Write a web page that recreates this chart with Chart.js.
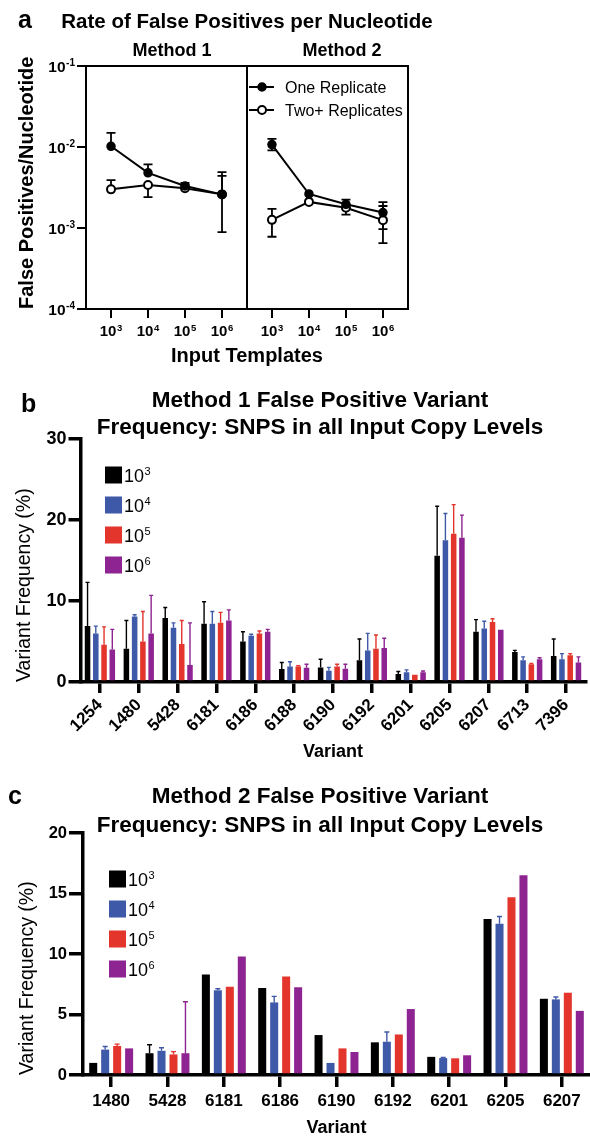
<!DOCTYPE html>
<html><head><meta charset="utf-8">
<script src="https://cdn.jsdelivr.net/npm/chart.js@4.4.1/dist/chart.umd.min.js"></script>
<style>
html,body{margin:0;padding:0;background:#fff;width:590px;height:1137px;overflow:hidden}
.w{position:absolute;left:0;width:590px}
#wa{top:0;height:370px}
#wb{top:380px;height:390px}
#wc{top:780px;height:357px}
canvas{display:block}
</style></head><body>
<div class="w" id="wa"><canvas id="ca"></canvas></div>
<div class="w" id="wb"><canvas id="cb"></canvas></div>
<div class="w" id="wc"><canvas id="cc"></canvas></div>
<script>
// ---------- DATA ----------
// Panel a: input templates 10^3..10^6 (exponents)
const templateExp = ['3','4','5','6'];
const yDecades = [1e-4, 1e-3, 1e-2, 1e-1];
const yDecadeExp = ['-4','-3','-2','-1'];
// Method 1
const m1One   = [0.0102, 0.0048, 0.0033, 0.0026];
const m1OneHi = [0.0149, 0.0061, 0.0036, 0.0049];
const m1OneLo = [null, null, null, null];
const m1Two   = [0.0030, 0.0034, 0.0031, 0.0026];
const m1TwoHi = [0.0039, null, 0.0034, 0.0044];
const m1TwoLo = [null, 0.0024, null, 0.00089];
// Method 2
const m2One   = [0.0107, 0.00263, 0.00196, 0.00155];
const m2OneHi = [0.0126, null, 0.00224, 0.00209];
const m2OneLo = [0.0091, null, null, 0.00097];
const m2Two   = [0.00126, 0.0021, 0.00178, 0.00125];
const m2TwoHi = [0.00172, null, null, 0.00187];
const m2TwoLo = [0.00078, null, 0.00146, 0.00065];

// Panels b & c: series = input copy levels 10^3..10^6
const seriesExp = ['3','4','5','6'];
const seriesColors = ['#000000', '#3F59A9', '#E3352B', '#8E2491'];

const variantsB = ['1254','1480','5428','6181','6186','6188','6190','6192','6201','6205','6207','6713','7396'];
const yTicksB = [0, 10, 20, 30];
const b3   = [6.9, 4.1, 7.9, 7.2, 5.0, 1.6, 1.8, 2.7, 1.0, 15.6, 6.2, 3.7, 3.2];
const b3Hi = [12.3, 7.6, 9.2, 9.9, 6.2, 2.4, 2.8, 5.3, 1.3, 21.7, 7.7, 3.9, 5.3];
const b4   = [6.0, 8.1, 6.7, 7.2, 5.7, 1.9, 1.4, 3.9, 1.2, 17.5, 6.6, 2.7, 2.8];
const b4Hi = [6.9, 8.3, 7.3, 8.7, 5.9, 2.5, 1.8, 6.0, 1.5, 20.8, 7.5, 3.1, 3.5];
const b5   = [4.6, 5.0, 4.7, 7.3, 6.0, 1.9, 1.9, 4.1, 0.9, 18.3, 7.4, 2.2, 3.3];
const b5Hi = [6.8, 8.7, 7.6, 8.6, 6.3, 2.0, 2.2, 5.8, null, 21.9, 7.8, 2.3, 3.5];
const b6   = [4.0, 6.0, 2.1, 7.6, 6.2, 1.75, 1.65, 4.2, 1.2, 17.8, 6.45, 2.8, 2.4];
const b6Hi = [6.5, 10.7, 7.3, 8.9, 6.5, 2.2, 2.2, 5.4, 1.35, 20.6, null, 3.0, 3.1];

const variantsC = ['1480','5428','6181','6186','6190','6192','6201','6205','6207'];
const yTicksC = [0, 5, 10, 15, 20];
const c3   = [1.0, 1.8, 8.3, 7.2, 3.3, 2.7, 1.5, 12.9, 6.3];
const c3Hi = [null, 2.5, null, null, null, null, null, null, null];
const c4   = [2.1, 2.0, 7.0, 6.0, 1.0, 2.75, 1.4, 12.5, 6.25];
const c4Hi = [2.35, 2.25, 7.13, 6.5, null, 3.55, 1.46, 13.1, 6.45];
const c5   = [2.4, 1.7, 7.3, 8.15, 2.2, 3.35, 1.38, 14.7, 6.8];
const c5Hi = [2.55, 1.93, null, null, null, null, null, null, null];
const c6   = [2.2, 1.8, 9.8, 7.25, 1.9, 5.45, 1.63, 16.5, 5.3];
const c6Hi = [null, 6.05, null, null, null, null, null, null, null];

// ---------- HELPERS ----------
const FONT = "'Liberation Sans', Arial, Helvetica, sans-serif";
Chart.defaults.font.family = FONT;
Chart.defaults.color = '#000';

function txt(ctx, s, x, y, size, weight, align) {
  ctx.save();
  ctx.font = weight + ' ' + size + 'px ' + FONT;
  ctx.fillStyle = '#000';
  ctx.textAlign = align || 'left';
  ctx.textBaseline = 'alphabetic';
  ctx.fillText(s, x, y);
  ctx.restore();
}
function pow(ctx, base, exp, x, y, size, expSize, rise, weight, align) {
  ctx.save();
  ctx.fillStyle = '#000';
  ctx.textBaseline = 'alphabetic';
  ctx.textAlign = 'left';
  ctx.font = weight + ' ' + size + 'px ' + FONT;
  const wb = ctx.measureText(base).width;
  ctx.font = weight + ' ' + expSize + 'px ' + FONT;
  const we = ctx.measureText(exp).width;
  const tw = wb + we + 0.5;
  const x0 = align === 'center' ? x - tw / 2 : align === 'right' ? x - tw : x;
  ctx.font = weight + ' ' + size + 'px ' + FONT;
  ctx.fillText(base, x0, y);
  ctx.font = weight + ' ' + expSize + 'px ' + FONT;
  ctx.fillText(exp, x0 + wb + 0.5, y - rise);
  ctx.restore();
}
function drawErrors(chart, opts) {
  const ctx = chart.ctx;
  chart.data.datasets.forEach((ds, di) => {
    const meta = chart.getDatasetMeta(di);
    const ys = chart.scales[meta.yAxisID];
    ctx.save();
    ctx.strokeStyle = ds.errColor || ds.backgroundColor;
    ctx.lineWidth = opts.width;
    meta.data.forEach((el, i) => {
      const x = el.x, y = el.y;
      [ds.errHi, ds.errLo].forEach(arr => {
        if (!arr || arr[i] == null) return;
        const ye = ys.getPixelForValue(arr[i]);
        ctx.beginPath();
        ctx.moveTo(x, y); ctx.lineTo(x, ye);
        ctx.moveTo(x - opts.cap, ye); ctx.lineTo(x + opts.cap, ye);
        ctx.stroke();
      });
    });
    ctx.restore();
  });
}
const errorBars = {
  id: 'errorBars',
  beforeDatasetsDraw(chart, args, opts) { if (opts.before) drawErrors(chart, opts); },
  afterDatasetsDraw(chart, args, opts) { if (!opts.before) drawErrors(chart, opts); }
};
function textsPlugin(id, list) {
  return { id: id, afterDraw(chart) {
    list.forEach(t => txt(chart.ctx, t[0], t[1], t[2], t[3], t[4], t[5]));
  }};
}
const barLegend = {
  id: 'barLegend',
  afterDraw(chart, args, o) {
    const ctx = chart.ctx;
    chart.data.datasets.forEach((ds, k) => {
      const cy = o.y0 + k * o.dy;
      ctx.save();
      ctx.fillStyle = ds.backgroundColor;
      ctx.fillRect(o.x, cy - o.size / 2, o.size, o.size);
      ctx.restore();
      pow(ctx, '10', seriesExp[k], o.textX, cy + 6.5, 18, 11, 7, 'normal', 'left');
    });
  }
};

// ---------- PANEL A ----------
const M2_SHIFT = 4.35;
const tickPosA = templateExp.map((e, i) => i).concat(templateExp.map((e, i) => i + M2_SHIFT));
const toPts = (arr, shift) => arr.map((v, i) => ({ x: i + shift, y: v }));
function lineDs(label, arr, hi, lo, shift, filled) {
  return {
    label: label, data: toPts(arr, shift), errHi: hi, errLo: lo, errColor: '#000',
    borderColor: '#000', backgroundColor: '#000', borderWidth: 2,
    pointBackgroundColor: filled ? '#000' : '#fff', pointBorderColor: '#000',
    pointRadius: 4, pointBorderWidth: filled ? 1.5 : 2, pointHoverRadius: 4, tension: 0
  };
}
const frameA = {
  id: 'frameA',
  afterDraw(chart) {
    const { ctx, chartArea: a, scales } = chart;
    ctx.save();
    ctx.strokeStyle = '#000'; ctx.lineWidth = 2;
    ctx.strokeRect(a.left, a.top, a.right - a.left, a.bottom - a.top);
    const xd = scales.x.getPixelForValue(3 + (M2_SHIFT - 3) / 2);
    ctx.beginPath(); ctx.moveTo(xd, a.top); ctx.lineTo(xd, a.bottom); ctx.stroke();
    ctx.restore();
  }
};
const labelsA = {
  id: 'labelsA',
  afterDraw(chart) {
    const { ctx, chartArea: a, scales } = chart;
    templateExp.forEach((e, i) => {
      pow(ctx, '10', e, scales.x.getPixelForValue(i), a.bottom + 27, 15, 9.5, 5.5, 'bold', 'center');
      pow(ctx, '10', e, scales.x.getPixelForValue(i + M2_SHIFT), a.bottom + 27, 15, 9.5, 5.5, 'bold', 'center');
    });
    yDecades.forEach((v, i) => {
      pow(ctx, '10', yDecadeExp[i], a.left - 11, scales.y.getPixelForValue(v) + 5.5, 15.5, 10, 5.5, 'bold', 'right');
    });
    txt(ctx, 'a', 18, 28, 25, 'bold');
    txt(ctx, 'Rate of False Positives per Nucleotide', 247, 28, 20.5, 'bold', 'center');
    txt(ctx, 'Method 1', 172, 56, 18, 'bold', 'center');
    txt(ctx, 'Method 2', 342, 56, 18, 'bold', 'center');
    // legend
    const rows = [[87, true, 'One Replicate'], [110, false, 'Two+ Replicates']];
    rows.forEach(r => {
      ctx.save();
      ctx.strokeStyle = '#000'; ctx.lineWidth = 2;
      ctx.beginPath(); ctx.moveTo(249, r[0]); ctx.lineTo(274, r[0]); ctx.stroke();
      ctx.beginPath(); ctx.arc(262, r[0], 4, 0, Math.PI * 2);
      ctx.fillStyle = r[1] ? '#000' : '#fff'; ctx.fill();
      ctx.lineWidth = r[1] ? 1.5 : 2; ctx.stroke();
      ctx.restore();
      txt(ctx, r[2], 285, r[0] + 6, 16, 'normal', 'left');
    });
  }
};
new Chart(document.getElementById('ca'), {
  type: 'line',
  data: { datasets: [
    lineDs('One Replicate', m1One, m1OneHi, m1OneLo, 0, true),
    lineDs('Two+ Replicates', m1Two, m1TwoHi, m1TwoLo, 0, false),
    lineDs('One Replicate', m2One, m2OneHi, m2OneLo, M2_SHIFT, true),
    lineDs('Two+ Replicates', m2Two, m2TwoHi, m2TwoLo, M2_SHIFT, false)
  ]},
  options: {
    responsive: true, maintainAspectRatio: false, animation: false,
    layout: { padding: { left: 0, top: 66, right: 182, bottom: 0 } },
    plugins: { legend: { display: false }, tooltip: { enabled: false },
      errorBars: { before: true, cap: 4.5, width: 1.8 } },
    scales: {
      x: { type: 'linear', min: -0.676, max: 8.027,
        afterBuildTicks: s => { s.ticks = tickPosA.map(v => ({ value: v })); },
        afterFit: s => { s.height = 61; },
        ticks: { display: false },
        grid: { drawOnChartArea: false, tickLength: 9, lineWidth: 2, color: '#000' },
        border: { display: false },
        title: { display: true, text: 'Input Templates', color: '#000',
          font: { size: 20, weight: 'bold' }, padding: { top: 0, bottom: 2 } } },
      y: { type: 'logarithmic', min: 1e-4, max: 1e-1,
        afterBuildTicks: s => { s.ticks = yDecades.map(v => ({ value: v })); },
        afterFit: s => { s.width = 86; },
        ticks: { display: false },
        grid: { drawOnChartArea: false, tickLength: 9, lineWidth: 2, color: '#000' },
        border: { display: false },
        title: { display: true, text: 'False Positives/Nucleotide', align: 'start', color: '#000',
          font: { size: 20, weight: 'bold' }, padding: { top: 15, bottom: 0 } } }
    }
  },
  plugins: [errorBars, frameA, labelsA]
});

// ---------- BAR PANELS ----------
function barDatasets(vals, his) {
  return vals.map((d, k) => ({
    label: '10^' + seriesExp[k], data: d, errHi: his[k],
    backgroundColor: seriesColors[k], borderWidth: 0,
    categoryPercentage: 0.85, barPercentage: 0.67
  }));
}
function barChart(el, cfg) {
  return new Chart(el, {
    type: 'bar',
    data: { labels: cfg.labels, datasets: barDatasets(cfg.vals, cfg.his) },
    options: {
      responsive: true, maintainAspectRatio: false, animation: false,
      layout: { padding: cfg.padding },
      plugins: { legend: { display: false }, tooltip: { enabled: false },
        errorBars: { before: false, cap: cfg.cap, width: 1.4 }, barLegend: cfg.legend },
      scales: {
        x: {
          afterFit: s => { s.height = cfg.xHeight; },
          grid: { offset: false, drawOnChartArea: false, tickLength: cfg.xTick, lineWidth: 3.5, color: '#000' },
          border: { display: true, color: '#000', width: 3.5 },
          ticks: { color: '#000', font: { size: 17, weight: 'bold' }, autoSkip: false,
            minRotation: cfg.rot, maxRotation: cfg.rot, padding: cfg.xPad },
          title: { display: true, text: 'Variant', color: '#000',
            font: { size: 18, weight: 'bold', lineHeight: cfg.xTitleLH }, padding: { top: 0, bottom: cfg.xTitlePad } }
        },
        y: {
          min: 0, max: cfg.yTicks[cfg.yTicks.length - 1],
          afterBuildTicks: s => { s.ticks = cfg.yTicks.map(v => ({ value: v })); },
          afterFit: s => { s.width = cfg.yWidth; },
          grid: { drawOnChartArea: false, tickLength: cfg.yTick, lineWidth: 3.5, color: '#000' },
          border: { display: true, color: '#000', width: 3.5 },
          ticks: { color: '#000', font: { size: cfg.yFont, weight: 'bold' }, padding: 2 },
          title: { display: true, text: 'Variant Frequency (%)', align: 'start', color: '#000',
            font: { size: 19.5 }, padding: { top: cfg.yTitlePad, bottom: 0 } }
        }
      }
    },
    plugins: [errorBars, barLegend, textsPlugin('texts', cfg.texts)]
  });
}

barChart(document.getElementById('cb'), {
  labels: variantsB, vals: [b3, b4, b5, b6], his: [b3Hi, b4Hi, b5Hi, b6Hi], yTicks: yTicksB,
  padding: { left: 0, top: 59, right: 4.5, bottom: 0 },
  xHeight: 88, xTick: 11, rot: 45, xPad: 2, xTitleLH: 1.2, xTitlePad: 7,
  yWidth: 80.5, yTick: 12, yFont: 18, yTitlePad: 12.6, cap: 2,
  legend: { x: 105, y0: 95, dy: 30, size: 17, textX: 124 },
  texts: [
    ['b', 21, 32, 25, 'bold', 'left'],
    ['Method 1 False Positive Variant', 320, 27, 22.5, 'bold', 'center'],
    ['Frequency: SNPS in all Input Copy Levels', 320, 54, 22.5, 'bold', 'center']
  ]
});

barChart(document.getElementById('cc'), {
  labels: variantsC, vals: [c3, c4, c5, c6], his: [c3Hi, c4Hi, c5Hi, c6Hi], yTicks: yTicksC,
  padding: { left: 0, top: 53, right: 0, bottom: 0 },
  xHeight: 62, xTick: 12, rot: 0, xPad: 4, xTitleLH: 1, xTitlePad: 0,
  yWidth: 83, yTick: 14, yFont: 16.5, yTitlePad: 15.6, cap: 2.5,
  legend: { x: 109, y0: 99, dy: 30, size: 17, textX: 128 },
  texts: [
    ['c', 8, 24, 25, 'bold', 'left'],
    ['Method 2 False Positive Variant', 320, 23, 22.5, 'bold', 'center'],
    ['Frequency: SNPS in all Input Copy Levels', 320, 52, 22.5, 'bold', 'center']
  ]
});
</script>
</body></html>
